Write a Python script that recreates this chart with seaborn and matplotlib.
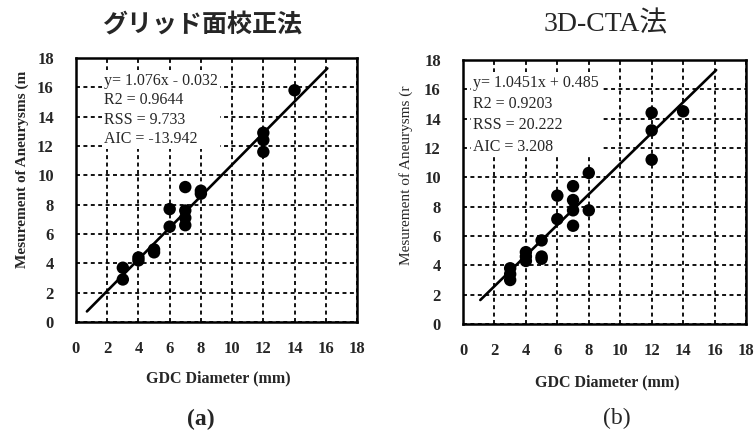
import numpy as np
import pandas as pd
import matplotlib
matplotlib.use("Agg")
import matplotlib.pyplot as plt
import seaborn as sns

# GDC coil diameter (mm) vs. measured aneurysm size, two measurement methods
grid_x = [3, 3, 4, 4, 5, 5, 6, 6, 7, 7, 7, 7, 8, 8, 12, 12, 12, 14]
grid_y = [3.7, 2.9, 4.2, 4.4, 4.95, 4.75, 7.7, 6.5, 9.2, 7.6, 7.1, 6.6,
          8.95, 8.75, 12.9, 12.4, 11.6, 15.8]

cta_x = [3, 3, 3, 4, 4, 4, 5, 5, 5, 6, 6, 7, 7, 7, 7, 8, 8, 12, 12, 12, 14]
cta_y = [3.8, 3.4, 3.0, 4.9, 4.6, 4.3, 5.7, 4.6, 4.45, 8.75, 7.15, 9.4,
         8.45, 7.75, 6.7, 10.3, 7.75, 14.4, 13.2, 11.2, 14.5]

# regression fits and their statistics
grid_fit = dict(slope=1.076, intercept=-0.032, x_range=(0.7, 16.1))
cta_fit = dict(slope=1.0451, intercept=0.485, x_range=(1.1, 16.1))
grid_stats = ["y= 1.076x - 0.032", "R2 = 0.9644", "RSS = 9.733", "AIC = -13.942"]
cta_stats = ["y= 1.0451x + 0.485", "R2 = 0.9203", "RSS = 20.222", "AIC = 3.208"]

titles = ["グリッド面校正法", "3D-CTA法"]
panel_tags = ["(a)", "(b)"]
x_label = "GDC Diameter (mm)"
y_labels = ["Mesurement of Aneurysms (m", "Mesurement of Aneurysms (r"]
ticks = list(range(0, 19, 2))

sns.set_style("white")
plt.rcParams["font.family"] = ["Liberation Serif", "Noto Sans CJK JP"]

W, H = 755, 432
fig = plt.figure(figsize=(W / 100, H / 100), dpi=100)


def px_axes(x0, y0, x1, y1):
    return fig.add_axes([x0 / W, 1 - y1 / H, (x1 - x0) / W, (y1 - y0) / H])


ax_a = px_axes(76, 58, 357, 322)
ax_b = px_axes(463, 60, 746, 324)

panels = [
    (ax_a, grid_x, grid_y, grid_fit, grid_stats),
    (ax_b, cta_x, cta_y, cta_fit, cta_stats),
]

for i, (ax, xs, ys, fit, stats) in enumerate(panels):
    df = pd.DataFrame({"x": xs, "y": ys})
    sns.scatterplot(data=df, x="x", y="y", ax=ax, color="black", s=80,
                    edgecolor="none", zorder=3)
    lx = np.array(fit["x_range"])
    line_df = pd.DataFrame({"x": lx, "y": fit["slope"] * lx + fit["intercept"]})
    sns.lineplot(data=line_df, x="x", y="y", ax=ax, color="black", lw=1.9,
                 zorder=4)

    ax.set_xlim(0, 18)
    ax.set_ylim(0, 18)
    ax.set_xticks(ticks)
    ax.set_yticks(ticks)
    ax.grid(True, color="black", lw=1.3, linestyle=(0, (2.2, 1.9)))
    ax.set_axisbelow(True)
    for s in ax.spines.values():
        s.set_visible(True)
        s.set_color("black")
        s.set_linewidth(1.8)

    ax.tick_params(axis="both", length=0, labelsize=12)
    ax.tick_params(axis="x", pad=14)
    ax.tick_params(axis="y", pad=16)
    for lab in ax.get_xticklabels() + ax.get_yticklabels():
        lab.set_fontweight("bold")

    ax.set_xlabel(x_label, fontsize=11.5, fontweight="bold", va="center")
    ax.set_ylabel(y_labels[i], fontsize=11,
                  fontweight="bold" if i == 0 else "normal", va="center")

    ax.text(0.10 if i == 0 else 0.035, 0.945, "\n".join(stats),
            transform=ax.transAxes, ha="left", va="top", fontsize=11.5,
            linespacing=1.3 if i == 0 else 1.45, zorder=5,
            bbox=dict(facecolor="white", edgecolor="none", pad=1.5))

ax_a.xaxis.set_label_coords(0.505, -0.212)
ax_b.xaxis.set_label_coords(0.51, -0.22)
ax_a.yaxis.set_label_coords(-0.19, 0.58)
ax_b.yaxis.set_label_coords(-0.2, 0.565)

ax_a.text(0.45, 1.125, titles[0], transform=ax_a.transAxes, ha="center",
          va="center", fontsize=18, fontweight="bold",
          family=["Noto Sans CJK JP"])
ax_b.text(0.505, 1.133, titles[1], transform=ax_b.transAxes, ha="center",
          va="center", fontsize=20, family=["Liberation Serif", "Noto Sans CJK JP"])

ax_a.text(0.443, -0.37, panel_tags[0], transform=ax_a.transAxes, ha="center",
          va="center", fontsize=17, fontweight="bold")
ax_b.text(0.545, -0.356, panel_tags[1], transform=ax_b.transAxes, ha="center",
          va="center", fontsize=17)

fig.savefig("out.png", dpi=100, facecolor="white")
